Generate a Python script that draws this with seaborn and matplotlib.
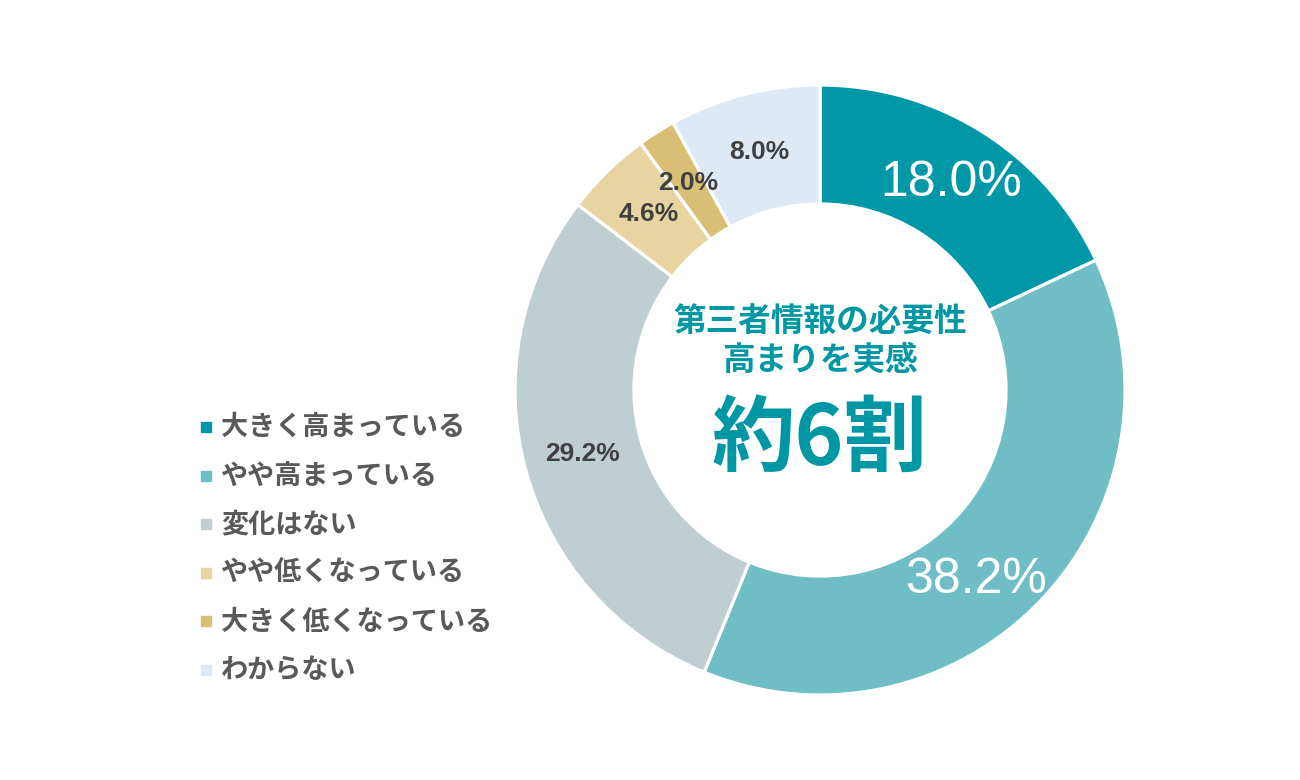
import numpy as np
import seaborn as sns
import matplotlib.pyplot as plt
from matplotlib.patches import Rectangle

# data
categories = ['大きく高まっている', 'やや高まっている', '変化はない',
              'やや低くなっている', '大きく低くなっている', 'わからない']
shares = [18.0, 38.2, 29.2, 4.6, 2.0, 8.0]
colors = ['#0098A6', '#70BEC5', '#BFCFD1', '#E8D4A1', '#D8BF74', '#DDEAF6']
center_lines = ['第三者情報の必要性', '高まりを実感']
center_big = '約6割'

sns.set_theme(style='white')
plt.rcParams['font.family'] = ['Noto Sans CJK JP', 'DejaVu Sans']

W, H = 1300, 780
fig = plt.figure(figsize=(W / 100, H / 100), dpi=100)
fig.patch.set_facecolor('white')

cx, cy, r = 820, 390, 305
ax = fig.add_axes([(cx - r) / W, (cy - r) / H, 2 * r / W, 2 * r / H])
ax.set_facecolor('white')

inner = 0.61
wedges, texts, autotexts = ax.pie(
    shares, colors=colors, startangle=90, counterclock=False,
    radius=1, autopct='%.1f%%', pctdistance=(1 + inner) / 2,
    wedgeprops=dict(width=1 - inner, edgecolor='white', linewidth=2.3))
ax.set_xlim(-1, 1)
ax.set_ylim(-1, 1)
ax.set_aspect('equal')
ax.axis('off')

num_font = ['Liberation Sans', 'DejaVu Sans']
for i, t in enumerate(autotexts):
    t.set_family(num_font)
    if i < 2:
        t.set_color('white')
        t.set_fontsize(36)
    else:
        t.set_color('#404040')
        t.set_fontsize(19)
        t.set_fontweight('bold')

# the 38.2% label sits a bit further clockwise in the reference
w = wedges[1]
ang = np.deg2rad((w.theta1 + w.theta2) / 2 - 7)
autotexts[1].set_position(((1 + inner) / 2 * np.cos(ang), (1 + inner) / 2 * np.sin(ang)))

teal = '#0097A5'
fig.text(cx / W, 1 - 322 / H, center_lines[0], ha='center', va='center',
         fontsize=23.5, fontweight='bold', color=teal)
fig.text(cx / W, 1 - 360 / H, center_lines[1], ha='center', va='center',
         fontsize=23.5, fontweight='bold', color=teal)
fig.text(cx / W, 1 - 440 / H, center_big, ha='center', va='center',
         fontsize=60, fontweight='bold', color=teal)

# legend
y0, dy = 427, 48.6
for i, (lab, col) in enumerate(zip(categories, colors)):
    y = y0 + i * dy
    fig.patches.append(Rectangle((201 / W, 1 - (y + 5) / H), 10 / W, 10 / H,
                                 transform=fig.transFigure, color=col))
    fig.text(221 / W, 1 - y / H, lab, ha='left', va='center',
             fontsize=19.5, fontweight='bold', color='#595959')

fig.savefig('out.png', dpi=100, facecolor='white')
